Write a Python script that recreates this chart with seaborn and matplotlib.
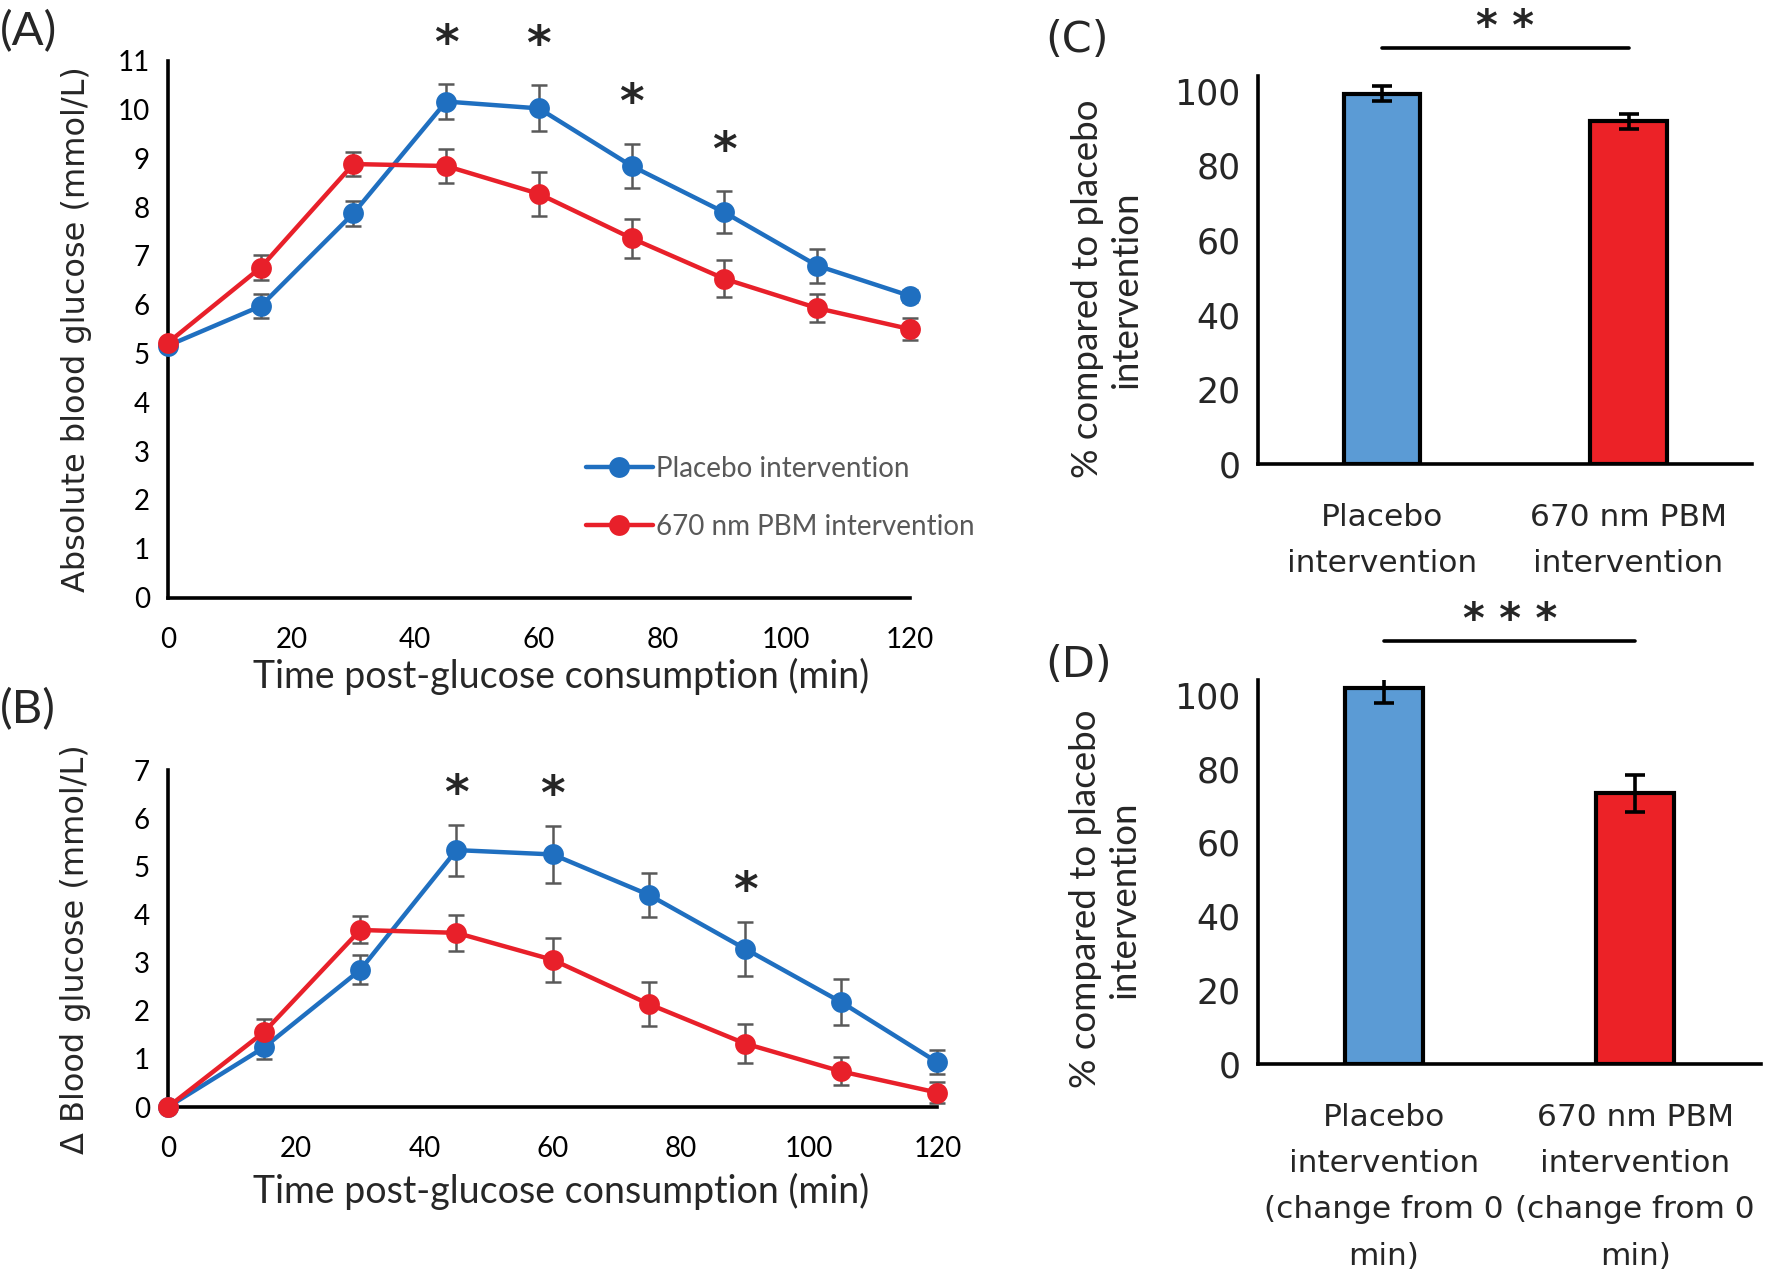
import numpy as np
import pandas as pd
import matplotlib
matplotlib.use("Agg")
import matplotlib.pyplot as plt
import seaborn as sns

sns.set_style("white")
plt.rcParams['font.family'] = ['Lato', 'DejaVu Sans']

# ---- data ----
times = [0, 15, 30, 45, 60, 75, 90, 105, 120]
groups = ["Placebo intervention", "670 nm PBM intervention"]

abs_placebo = [5.16, 5.97, 7.87, 10.16, 10.02, 8.84, 7.89, 6.80, 6.18]
abs_placebo_err = [0.10, 0.25, 0.25, 0.35, 0.47, 0.45, 0.43, 0.35, 0.12]
abs_pbm = [5.22, 6.76, 8.88, 8.84, 8.27, 7.36, 6.53, 5.93, 5.50]
abs_pbm_err = [0.10, 0.25, 0.25, 0.35, 0.45, 0.40, 0.38, 0.28, 0.22]
abs_sig = [45, 60, 75, 90]

delta_placebo = [0.0, 1.24, 2.85, 5.34, 5.25, 4.41, 3.29, 2.18, 0.93]
delta_placebo_err = [0.0, 0.25, 0.30, 0.53, 0.60, 0.46, 0.56, 0.48, 0.25]
delta_pbm = [0.0, 1.56, 3.68, 3.62, 3.06, 2.14, 1.32, 0.74, 0.30]
delta_pbm_err = [0.0, 0.27, 0.28, 0.37, 0.46, 0.45, 0.41, 0.29, 0.22]
delta_sig = [45, 60, 90]

bar_labels_c = ["Placebo\nintervention", "670 nm PBM\nintervention"]
bar_c = [99.3, 91.9]
bar_c_err = [2.0, 2.0]
bar_labels_d = ["Placebo\nintervention\n(change from 0\nmin)", "670 nm PBM\nintervention\n(change from 0\nmin)"]
bar_d = [101.8, 73.3]
bar_d_err = [4.0, 5.0]

BLUE = "#1f6fc0"
RED = "#e8202a"
BAR_BLUE = "#5b9bd5"
BAR_RED = "#ec2227"
GRAY = "#595959"
CALIBRI = ['Lato', 'DejaVu Sans']
GOTHIC = ['DejaVu Sans']

fig = plt.figure(figsize=(17.75, 12.88), dpi=100)


def style_axes(ax):
    sns.despine(ax=ax)
    for s in ["left", "bottom"]:
        ax.spines[s].set_linewidth(2.6)
        ax.spines[s].set_color("black")


def line_panel(ax, placebo, placebo_err, pbm, pbm_err, sig, ymax, star_off, legend):
    df = pd.DataFrame({
        "time": times * 2,
        "value": placebo + pbm,
        "group": [groups[0]] * len(times) + [groups[1]] * len(times),
    })
    for vals, errs in [(placebo, placebo_err), (pbm, pbm_err)]:
        ax.errorbar(times, vals, yerr=errs, fmt="none", ecolor=GRAY, elinewidth=1.8,
                    capsize=6, capthick=1.8, zorder=2, clip_on=False)
    sns.lineplot(data=df, x="time", y="value", hue="group", palette=[BLUE, RED],
                 marker="o", markersize=15, markeredgewidth=0, linewidth=3.2,
                 ax=ax, legend=legend, zorder=3, clip_on=False)
    for t in sig:
        i = times.index(t)
        ax.text(t, placebo[i] + placebo_err[i] + star_off, "*", ha="center", va="center",
                fontsize=34, fontweight="bold", family=GOTHIC)
    ax.set_xlim(0, 120)
    ax.set_ylim(0, ymax)
    ax.set_xticks(range(0, 121, 20))
    ax.set_yticks(range(0, ymax + 1))
    style_axes(ax)
    ax.tick_params(axis="both", direction="out", length=7, width=2.2, labelsize=20,
                   colors="black", pad=6)
    ax.tick_params(axis="x", pad=14)
    ax.set_xlabel("Time post-glucose consumption (min)", fontsize=27, family=CALIBRI)


# ---- panel A ----
axA = fig.add_axes([0.0946, 0.536, 0.418, 0.417])
line_panel(axA, abs_placebo, abs_placebo_err, abs_pbm, abs_pbm_err, abs_sig, 11, 0.8, True)
axA.set_ylabel("Absolute blood glucose (mmol/L)", fontsize=23, family=GOTHIC)
axA.yaxis.set_label_coords(-0.102, 0.5)
axA.xaxis.set_label_coords(0.53, -0.113)
leg = axA.legend(loc="upper left", bbox_to_anchor=(0.53, 0.31), frameon=False, fontsize=20,
                 handlelength=2.4, labelspacing=1.15, handletextpad=0.1)
for txt in leg.get_texts():
    txt.set_color(GRAY)
fig.text(0.0, 0.992, "(A)", fontsize=34, va="top", ha="left", family=CALIBRI)

# ---- panel B ----
axB = fig.add_axes([0.0946, 0.1405, 0.4335, 0.2615])
line_panel(axB, delta_placebo, delta_placebo_err, delta_pbm, delta_pbm_err, delta_sig, 7, 0.6, False)
axB.set_ylabel("Δ Blood glucose (mmol/L)", fontsize=23, family=GOTHIC)
axB.yaxis.set_label_coords(-0.1, 0.47)
axB.xaxis.set_label_coords(0.511, -0.195)
fig.text(0.0, 0.466, "(B)", fontsize=34, va="top", ha="left", family=CALIBRI)


# ---- bar panels ----
def bar_panel(ax, labels, vals, errs, stars, bracket_y, label_y):
    df = pd.DataFrame({"group": labels, "value": vals})
    sns.barplot(data=df, x="group", y="value", hue="group", palette=[BAR_BLUE, BAR_RED],
                width=0.31, edgecolor="black", linewidth=3, saturation=1, legend=False, ax=ax)
    ax.errorbar(range(len(vals)), vals, yerr=errs, fmt="none", ecolor="black",
                elinewidth=2.6, capsize=7, capthick=2.6, zorder=5)
    ax.set_xlim(-0.5, 1.5)
    ax.set_ylim(0, 104)
    ax.set_yticks(range(0, 101, 20))
    style_axes(ax)
    ax.set_xlabel("")
    ax.set_ylabel("% compared to placebo\nintervention", fontsize=26.5, family=CALIBRI,
                  linespacing=1.2)
    ax.yaxis.set_label_coords(-0.235, label_y)
    ax.tick_params(axis="y", direction="out", length=7, width=2.2, labelsize=25, pad=6)
    ax.tick_params(axis="x", which="major", length=0, labelsize=22.5, pad=28)
    ax.set_xticks([-0.5, 0.5, 1.5], minor=True)
    ax.tick_params(axis="x", which="minor", direction="out", length=9, width=2.6)
    for lab in ax.get_yticklabels() + ax.get_xticklabels():
        lab.set_family(GOTHIC)
    for lab in ax.get_xticklabels():
        lab.set_linespacing(1.75)
    ax.plot([0, 1], [bracket_y, bracket_y], color="black", lw=2.6, clip_on=False)
    ax.text(0.5, bracket_y + 5.5, stars, ha="center", va="center", fontsize=30,
            fontweight="bold", family=GOTHIC)


axC = fig.add_axes([0.709, 0.640, 0.278, 0.301])
bar_panel(axC, bar_labels_c, bar_c, bar_c_err, "* *", 111.5, 0.45)
fig.text(0.589, 0.985, "(C)", fontsize=31, va="top", ha="left", family=GOTHIC)

axD = fig.add_axes([0.709, 0.174, 0.283, 0.298])
bar_panel(axD, bar_labels_d, bar_d, bar_d_err, "* * *", 114.5, 0.43)
fig.text(0.589, 0.5, "(D)", fontsize=31, va="top", ha="left", family=GOTHIC)

fig.savefig("out.png", dpi=100)
